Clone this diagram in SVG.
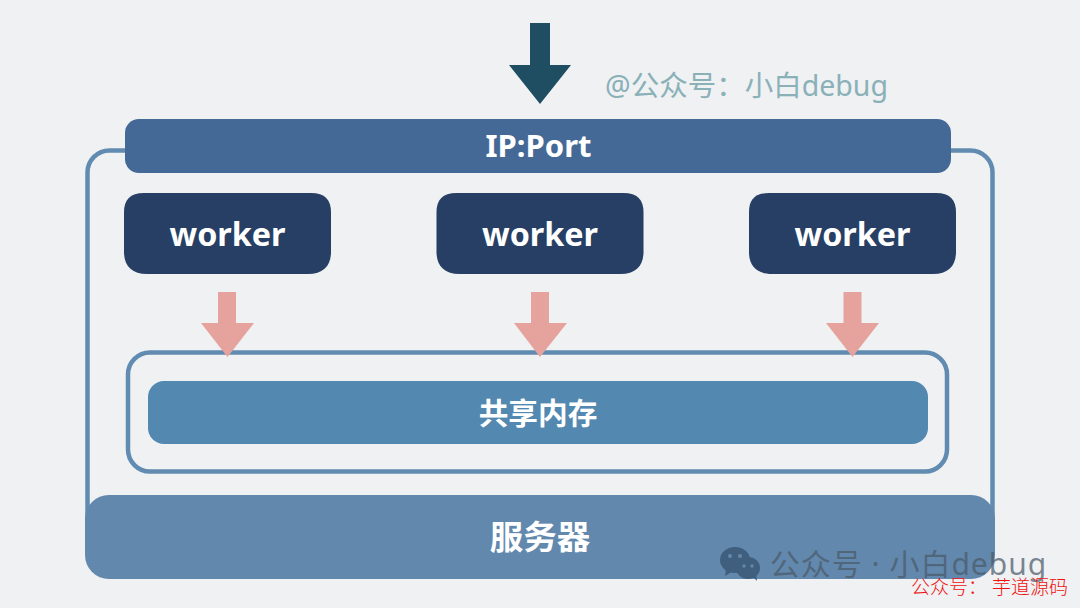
<svg xmlns="http://www.w3.org/2000/svg" width="1080" height="608" viewBox="0 0 1080 608">
<style>
text{font-family:"Noto Sans","Noto Sans CJK SC",sans-serif;text-anchor:middle}
.w{fill:#fff;font-weight:700}
.worker{fill:#273f64}
.pink{fill:#e6a39d}
.line{fill:none;stroke:#618bb0;stroke-width:4.500}
</style>
<rect width="1080" height="608" fill="#eff1f3"/>
<g id="server-frame"><rect class="line" x="87.500" y="150.500" width="905" height="395" rx="22"/></g>
<g id="ip-port"><rect x="125" y="119" width="826" height="54" rx="14" fill="#456996"/><text class="w" x="538.500" y="157" font-size="31">IP:Port</text></g>
<g id="worker-1"><path class="worker" d="M144 193H311C325 193 331 200 331 212V252C331 266 323 274 308 274H147C132 274 124 266 124 252V212C124 200 130 193 144 193Z"/><text class="w" x="227.500" y="246" font-size="32.300">worker</text></g>
<g id="worker-2"><path class="worker" d="M456.500 193H623.500C637.500 193 643.500 200 643.500 212V252C643.500 266 635.500 274 620.500 274H459.500C444.500 274 436.500 266 436.500 252V212C436.500 200 442.500 193 456.500 193Z"/><text class="w" x="540" y="246" font-size="32.300">worker</text></g>
<g id="worker-3"><path class="worker" d="M769 193H936C950 193 956 200 956 212V252C956 266 948 274 933 274H772C757 274 749 266 749 252V212C749 200 755 193 769 193Z"/><text class="w" x="852.500" y="246" font-size="32.300">worker</text></g>
<g id="shared-frame"><rect class="line" x="128" y="352.500" width="819" height="119" rx="22"/></g>
<g id="shared-memory"><rect x="148" y="381" width="780" height="63" rx="16" fill="#5388b0"/><text class="w" x="538" y="424" font-size="29.700">共享内存</text></g>
<g id="server"><rect x="85" y="495" width="910" height="84" rx="24" fill="#6288ad"/><text class="w" x="540" y="548.500" font-size="33.500">服务器</text></g>
<g id="connectors">
<path d="M530 23H550V65H571L540 104L509 65H530Z" fill="#1f4e63"/>
<path class="pink" d="M218 292H236V323H254L227.500 357L201 323H218Z"/>
<path class="pink" d="M531 292H549V323H567L540 357L514 323H531Z"/>
<path class="pink" d="M843.500 292H861.500V323H879L852.500 357L826 323H843.500Z"/>
</g>
<text x="746.500" y="96" font-size="28.500" fill="#8ab0b8">@公众号：小白debug</text>
<g id="wechat-icon" fill="#3f5d7c" opacity=".95">
<ellipse cx="735" cy="560" rx="15" ry="13"/><path d="M726 569l-1 7 8-5Z"/>
<ellipse cx="748" cy="568" rx="12" ry="11"/><path d="M752 576l5 5-1-8Z"/>
<g fill="#6288ad"><circle cx="730" cy="556" r="2"/><circle cx="740" cy="556" r="2"/><circle cx="744" cy="566" r="1.700"/><circle cx="752" cy="566" r="1.700"/></g>
</g>
<text x="908.500" y="575" font-size="30" letter-spacing="1" fill="#4a5a68" fill-opacity=".72">公众号 · 小白debug</text>
<text x="989.500" y="594" font-size="19" font-weight="300" fill="#f01010">公众号： 芋道源码</text>
</svg>
